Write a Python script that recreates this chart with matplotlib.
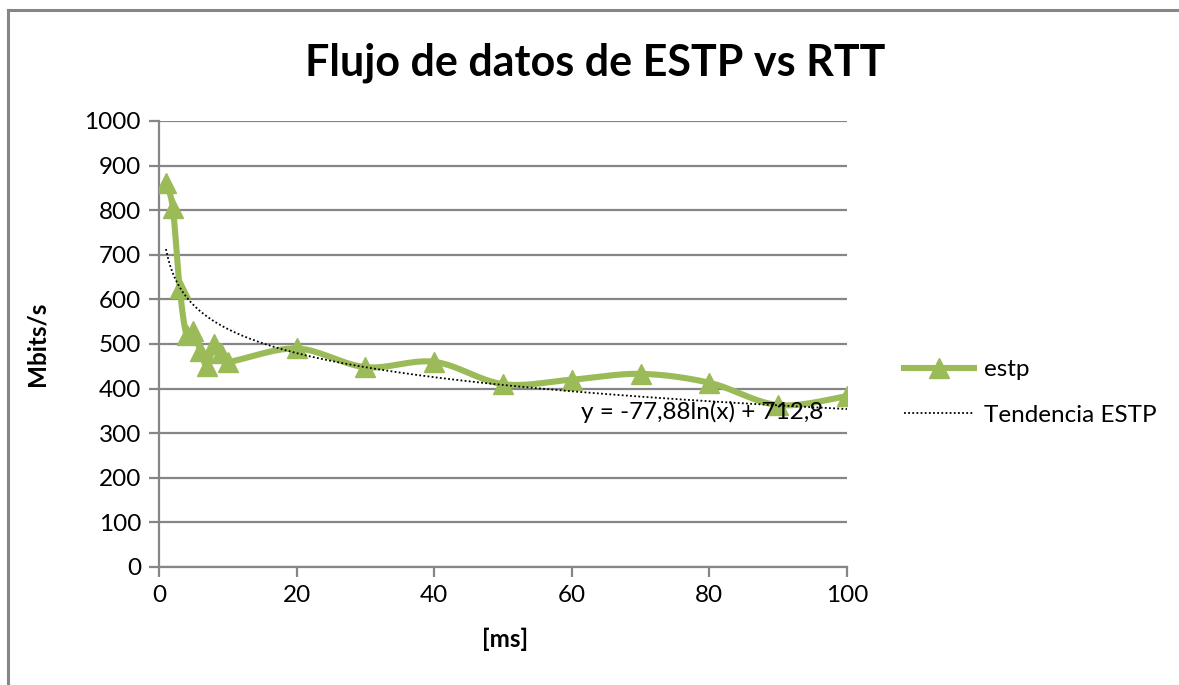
import numpy as np
import matplotlib
matplotlib.use("Agg")
import matplotlib.pyplot as plt
from matplotlib.lines import Line2D

# datos
rtt_ms = [1, 2, 3, 4, 5, 6, 7, 8, 9, 10, 20, 30, 40, 50, 60, 70, 80, 90, 100]
estp_mbits = [860, 805, 625, 520, 530, 485, 450, 500, 480, 460,
              490, 448, 460, 410, 420, 433, 413, 363, 383]

# tendencia logaritmica mostrada en el grafico
TEND_A = -77.88
TEND_B = 712.8

VERDE = "#9BBB59"
GRIS = "#868686"


def suavizar(xs, ys, n=30):
    # curva tipo Excel: bezier cubica por tramos
    xs = np.asarray(xs, float)
    ys = np.asarray(ys, float)
    px, py = [], []
    m = len(xs)
    for i in range(m - 1):
        i0 = max(i - 1, 0)
        i3 = min(i + 2, m - 1)
        c1x = xs[i] + (xs[i + 1] - xs[i0]) / 6
        c1y = ys[i] + (ys[i + 1] - ys[i0]) / 6
        c2x = xs[i + 1] - (xs[i3] - xs[i]) / 6
        c2y = ys[i + 1] - (ys[i3] - ys[i]) / 6
        t = np.linspace(0, 1, n)
        a = (1 - t) ** 3
        b = 3 * (1 - t) ** 2 * t
        c = 3 * (1 - t) * t ** 2
        d = t ** 3
        px.extend(a * xs[i] + b * c1x + c * c2x + d * xs[i + 1])
        py.extend(a * ys[i] + b * c1y + c * c2y + d * ys[i + 1])
    return px, py


plt.rcParams['font.family'] = ['Lato', 'DejaVu Sans']

fig = plt.figure(figsize=(11.79, 6.85), dpi=100)
ax = fig.add_axes([0.1349, 0.1723, 0.5835, 0.6511])

# borde exterior (solo izquierda y arriba visibles)
fig.add_artist(Line2D([0.0068, 0.0068], [0, 0.9855], color=GRIS, lw=2.2,
                      transform=fig.transFigure))
fig.add_artist(Line2D([0.0068, 1], [0.9855, 0.9855], color=GRIS, lw=2.2,
                      transform=fig.transFigure))

sx, sy = suavizar(rtt_ms, estp_mbits)
ax.plot(sx, sy, color=VERDE, lw=4.4, solid_capstyle="round", zorder=3)
ax.plot(rtt_ms, estp_mbits, linestyle="none", marker="^", markersize=14,
        color=VERDE, zorder=4)

xt = np.linspace(1, 100, 300)
ax.plot(xt, TEND_A * np.log(xt) + TEND_B, color="black", lw=1.3,
        linestyle=(0, (1, 1.3)), zorder=5)

ax.text(79, 347, "y = -77,88ln(x) + 712,8", fontsize=17.5, ha="center",
        va="center", zorder=6)

ax.set_xlim(0, 100)
ax.set_ylim(0, 1000)
ax.set_xticks(range(0, 101, 20))
ax.set_yticks(range(0, 1001, 100))
ax.yaxis.grid(True, color=GRIS, lw=1.6)
ax.set_axisbelow(True)
for lado in ["top", "right"]:
    ax.spines[lado].set_visible(False)
for lado in ["left", "bottom"]:
    ax.spines[lado].set_color(GRIS)
    ax.spines[lado].set_linewidth(1.6)
ax.tick_params(axis="both", direction="out", length=7, width=1.6, color=GRIS,
               labelsize=17.5, pad=6)

ax.set_xlabel("[ms]", fontsize=17.5, fontweight="bold")
ax.set_ylabel("Mbits/s", fontsize=17.5, fontweight="bold")
ax.xaxis.set_label_coords(0.503, -0.135)
ax.yaxis.set_label_coords(-0.160, 0.5)
fig.text(0.505, 0.909, "Flujo de datos de ESTP vs RTT", fontsize=31,
         fontweight="bold", ha="center", va="center")

h1 = Line2D([], [], color=VERDE, lw=4.4, marker="^", markersize=14)
h2 = Line2D([], [], color="black", lw=1.3, linestyle=(0, (1, 1.3)))
fig.legend([h1, h2], ["estp", "Tendencia ESTP"], loc="center left",
           bbox_to_anchor=(0.748, 0.427), frameon=False, fontsize=17.5,
           handlelength=2.9, labelspacing=1.0, handletextpad=0.4)

fig.savefig("out.png", dpi=100)
